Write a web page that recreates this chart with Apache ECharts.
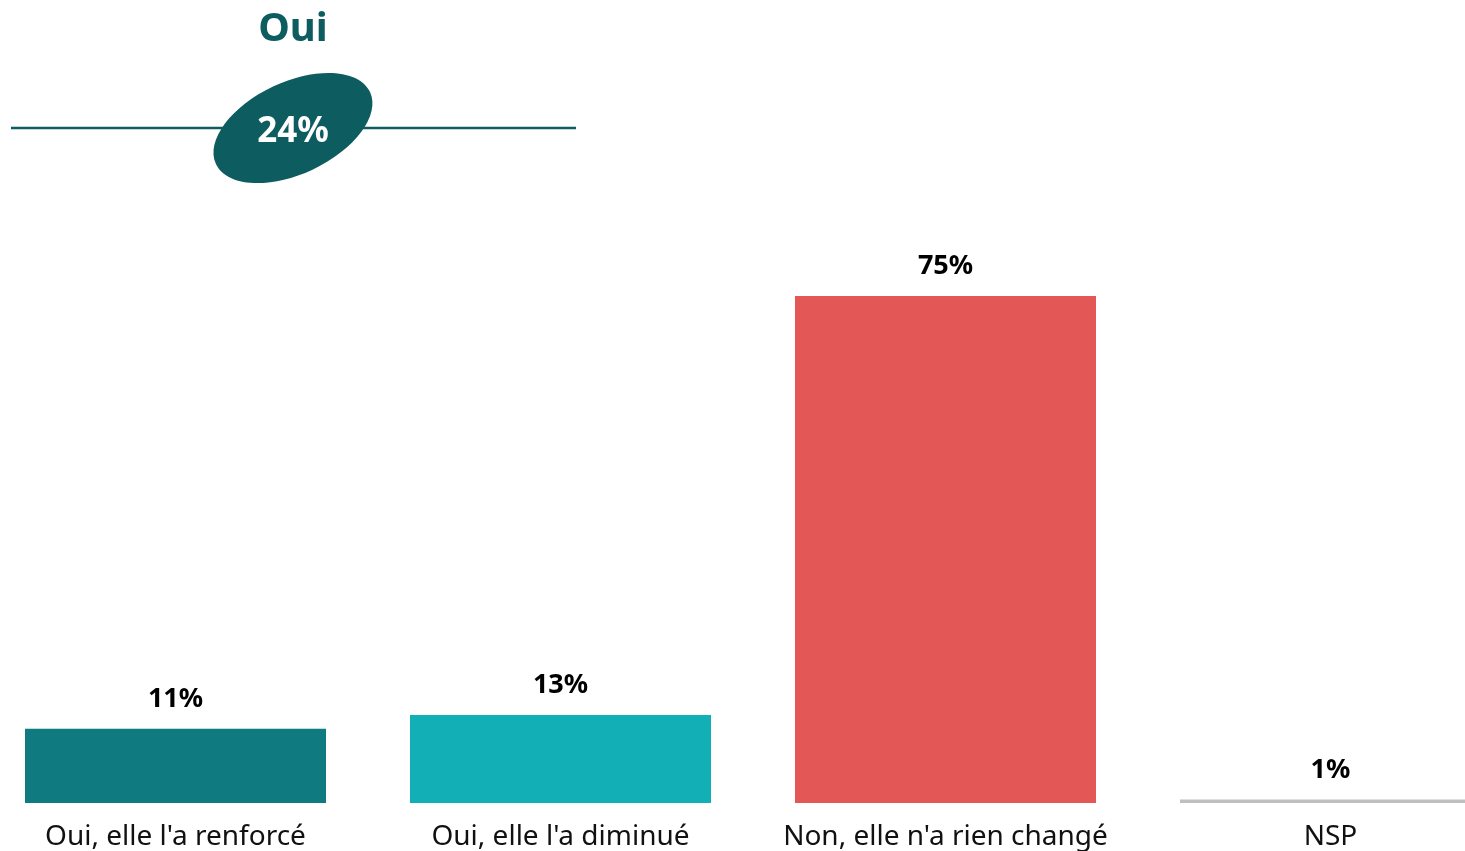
<!DOCTYPE html>
<html>
<head>
<meta charset="utf-8">
<script src="https://cdn.jsdelivr.net/npm/echarts@6/dist/echarts.min.js"></script>
<style>html,body{margin:0;padding:0;background:#fff}#c{width:1465px;height:851px}</style>
</head>
<body>
<div id="c"></div>
<script>
const categories = ["Oui, elle l'a renforcé", "Oui, elle l'a diminué", "Non, elle n'a rien changé", "NSP"];
const values = [11, 13, 75, 0.5];
const barColors = ["#0f7a80", "#13afb7", "#e35756", "#bfbfbf"];
const headerTitle = "Oui";
const headerValue = "24%";

const FONT = "Noto Sans";
const chart = echarts.init(document.getElementById('c'));
chart.setOption({
  animation: false,
  grid: { left: 175.5, right: 134.5, top: 127, bottom: 48, containLabel: false },
  xAxis: {
    type: 'category', data: categories, boundaryGap: false,
    axisLine: { show: false }, axisTick: { show: false }, splitLine: { show: false },
    axisLabel: { fontFamily: FONT, fontSize: 28, color: '#111', margin: 20, interval: 0 }
  },
  yAxis: { type: 'value', min: 0, max: 100, show: false, splitLine: { show: false } },
  series: [{
    type: 'bar', barWidth: 301, clip: false,
    data: values.map((v, i) => ({ value: v, itemStyle: { color: barColors[i] } })),
    label: {
      show: true, position: 'top', distance: 16,
      formatter: p => Math.round(p.value) + '%',
      fontFamily: FONT, fontSize: 27, fontWeight: 'bold', color: '#000'
    }
  }],
  graphic: [
    { type: 'line', shape: { x1: 11, y1: 128, x2: 576, y2: 128 }, style: { stroke: '#0d5c5f', lineWidth: 2.5 } },
    { type: 'ellipse', x: 293, y: 128, rotation: 25 * Math.PI / 180, shape: { cx: 0, cy: 0, rx: 85, ry: 46 }, style: { fill: '#0d5c5f' } },
    { type: 'text', x: 293, y: 132, style: { text: headerValue, fill: '#fff', font: 'bold 35px "Noto Sans"', textAlign: 'center', textVerticalAlign: 'middle' } },
    { type: 'text', x: 293, y: 30, style: { text: headerTitle, fill: '#0d5c5f', font: 'bold 40px "Noto Sans"', textAlign: 'center', textVerticalAlign: 'middle' } }
  ]
});
</script>
</body>
</html>
